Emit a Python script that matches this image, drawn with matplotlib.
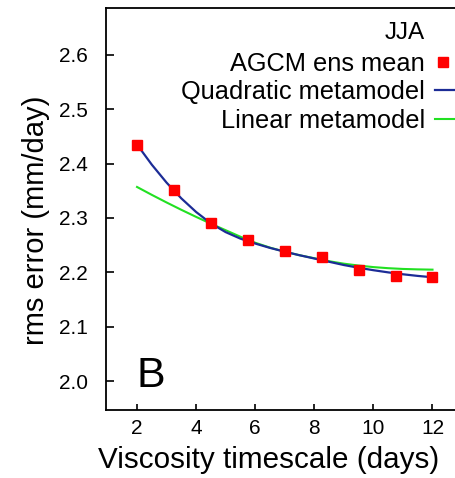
import matplotlib
matplotlib.use("Agg")
import matplotlib.pyplot as plt
from matplotlib.legend_handler import HandlerLine2DCompound
from matplotlib.ticker import FormatStrFormatter

plt.rcParams['font.family'] = ['Liberation Sans', 'DejaVu Sans']

# AGCM ensemble mean points
visc_days = [2.0, 3.25, 4.5, 5.75, 7.0, 8.25, 9.5, 10.75, 12.0]
agcm_rms = [2.435, 2.351, 2.291, 2.260, 2.239, 2.228, 2.205, 2.194, 2.192]

# metamodel curves
curve_days = [2.0, 2.5, 3.0, 3.5, 4.0, 4.5, 5.0, 5.5, 6.0, 6.5, 7.0, 7.5,
              8.0, 8.5, 9.0, 9.5, 10.0, 10.5, 11.0, 11.5, 12.0]
quad_rms = [2.435, 2.398, 2.365, 2.336, 2.311, 2.290, 2.274, 2.262, 2.253,
            2.245, 2.238, 2.2315, 2.2255, 2.2195, 2.2135, 2.2085, 2.204,
            2.200, 2.1965, 2.1935, 2.191]
lin_rms = [2.357, 2.3425, 2.3285, 2.315, 2.302, 2.2895, 2.2775, 2.2655,
           2.2545, 2.2455, 2.238, 2.2315, 2.226, 2.2205, 2.216, 2.2125,
           2.2097, 2.2077, 2.2063, 2.2055, 2.205]

xticks = [2, 4, 6, 8, 10, 12]
yticks = [2.0, 2.1, 2.2, 2.3, 2.4, 2.5, 2.6]

W, H = 456, 478
fig = plt.figure(figsize=(W / 100, H / 100), dpi=100)
ax = fig.add_axes([106 / W, 1 - 410 / H, (W - 106) / W + 0.01, (410 - 8) / H])

l_lin, = ax.plot(curve_days, lin_rms, color='#22e022', lw=1.5, zorder=2)
l_quad, = ax.plot(curve_days, quad_rms, color='#1c2c96', lw=1.6, zorder=3)
l_pts, = ax.plot(visc_days, agcm_rms, linestyle='none', marker='s',
                 markersize=6.5, color='#ff0000', zorder=4)

ax.set_xlim(0.95, 12.95)
ax.set_ylim(1.947, 2.686)
ax.set_xticks(xticks)
ax.set_yticks(yticks)
ax.yaxis.set_major_formatter(FormatStrFormatter('%.1f'))
ax.spines['right'].set_visible(False)
for s in ax.spines.values():
    s.set_linewidth(1.3)
ax.tick_params(axis='both', direction='in', width=1.2, labelsize=15)
ax.tick_params(axis='x', length=4.5, pad=6.5)
ax.tick_params(axis='y', length=6, pad=13)


class MarkerLeft(HandlerLine2DCompound):
    def get_xdata(self, legend, xdescent, ydescent, width, height, fontsize):
        xd, xm = super().get_xdata(legend, xdescent, ydescent, width, height, fontsize)
        return xd, [-xdescent + 0.22 * width]


leg = ax.legend([l_pts, l_quad, l_lin],
                ['AGCM ens mean', 'Quadratic metamodel', 'Linear metamodel'],
                loc='upper right', bbox_to_anchor=(473 / W, 1 - 52 / H),
                bbox_transform=fig.transFigure, frameon=False, markerfirst=False,
                fontsize=18.3, handlelength=1.5, handletextpad=0.38,
                labelspacing=0.17, borderpad=0, borderaxespad=0,
                handler_map={l_pts: MarkerLeft(numpoints=1)})

fig.text(425 / W, 1 - 33 / H, 'JJA', ha='right', va='center', fontsize=17.5)
fig.text(137 / W, 1 - 387 / H, 'B', ha='left', va='baseline', fontsize=31)
fig.text(36 / W, 1 - 220 / H, 'rms error (mm/day)', rotation=90,
         ha='center', va='center', fontsize=21)
fig.text(269 / W, 1 - 468 / H, 'Viscosity timescale (days)',
         ha='center', va='baseline', fontsize=21.3)

fig.savefig('out.png', dpi=100)
